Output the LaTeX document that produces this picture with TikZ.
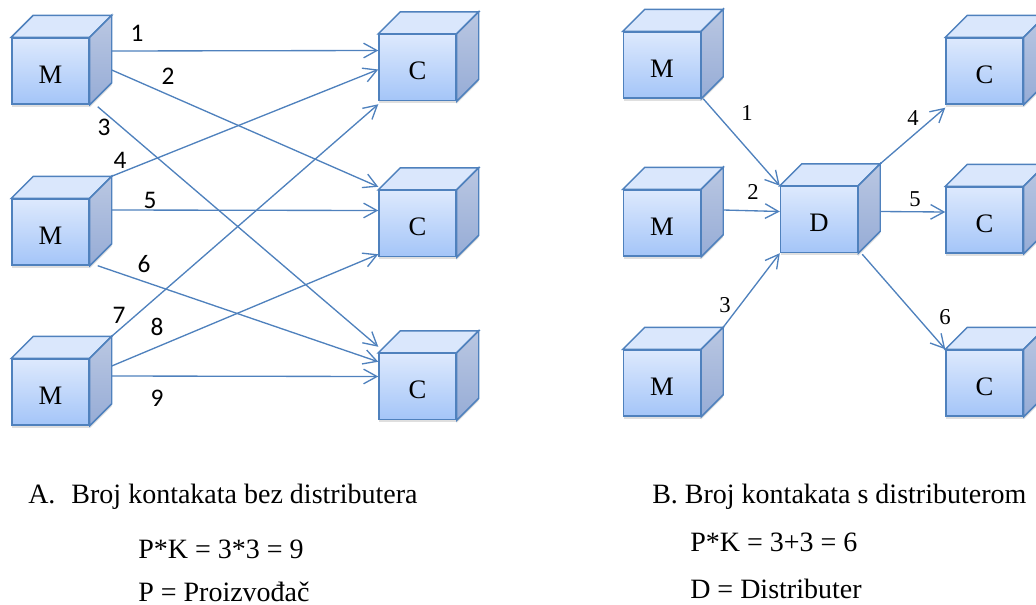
\documentclass[tikz,border=0pt]{standalone}
\usepackage{fontspec}
\setmainfont{Liberation Serif}
\newfontfamily\numfont{Carlito}
\usetikzlibrary{arrows.meta,shadows}

\definecolor{edge}{RGB}{79,129,189}
\definecolor{facetop}{RGB}{221,233,253}
\definecolor{facebot}{RGB}{164,197,248}
\definecolor{lidface}{RGB}{218,231,252}
\definecolor{sidetop}{RGB}{186,199,226}
\definecolor{sidebot}{RGB}{150,172,214}

\begin{document}
\begin{tikzpicture}[x=0.75pt, y=-0.75pt,
    cube/.style={draw=edge, line width=1.1pt, top color=facetop, bottom color=facebot,
                 minimum width=57.75pt, minimum height=49.5pt, inner sep=0pt,
                 text height=18pt, text depth=0pt, font=\fontsize{20}{20}\selectfont,
                 drop shadow={shadow xshift=0pt, shadow yshift=-2pt, opacity=.25}},
    lid/.style={draw=edge, line width=1.1pt, fill=lidface},
    side/.style={draw=edge, line width=1.1pt, top color=sidetop, bottom color=sidebot,
                 drop shadow={shadow xshift=0pt, shadow yshift=-2pt, opacity=.25}},
    link/.style={draw=edge, line width=1pt, -{Straight Barb[length=10pt,width=11pt]}},
    numA/.style={inner sep=0pt, font=\numfont\fontsize{19}{19}\selectfont},
    numB/.style={inner sep=0pt, font=\fontsize{17}{17}\selectfont},
    caption/.style={anchor=base west, inner sep=0pt, font=\fontsize{21}{24}\selectfont}]
        \clip (0,0) rectangle (1036,604);                              %
        % A: bez distributera
        \node[cube] (m1) at (50.5,71)    {M};                          %M1
        \node[cube] (m2) at (50.5,232)   {M};                          %M2
        \node[cube] (m3) at (50.5,392)   {M};                          %M3
        \node[cube] (c1) at (417.5,67.5) {C};                          %C1
        \node[cube] (c2) at (417.5,223.5){C};                          %C2
        \node[cube] (c3) at (417.5,386.5){C};                          %C3
        % B: s distributerom
        \node[cube] (rm1) at (662,65)    {M};                          %M1
        \node[cube] (rm2) at (662,223)   {M};                          %M2
        \node[cube] (rm3) at (662,383)   {M};                          %M3
        \node[cube] (d)   at (819,219.5) {D};                          %D
        \node[cube] (rc1) at (984.5,71)  {C};                          %C1
        \node[cube] (rc2) at (984.5,220) {C};                          %C2
        \node[cube] (rc3) at (984.5,383) {C};                          %C3
        \foreach \n in {m1,m2,m3,c1,c2,c3,rm1,rm2,rm3,d,rc1,rc2,rc3}{%
          \draw[lid]  (\n.north west) -- ++(22,-22) -- ([shift={(22,-22)}]\n.north east) -- (\n.north east) -- cycle;
          \draw[side] (\n.north east) -- ++(22,-22) -- ([shift={(22,-22)}]\n.south east) -- (\n.south east) -- cycle;
        }
        % veze A
        \draw[link] ([shift={(22,-20)}]m1.east)       -- ([shift={(0,-17)}]c1.west);        %1
        \draw[link] ([shift={(22,-1)}]m1.east)        -- ([shift={(0,-3)}]c2.north west);   %2
        \draw[link] ([shift={(8,2)}]m1.south east)    -- ([shift={(0,-6)}]c3.north west);   %3
        \draw[link] ([shift={(22,-22)}]m2.north east) -- ([shift={(0,2)}]c1.west);          %4
        \draw[link] ([shift={(22,-22)}]m2.east)       -- ([shift={(0,-13)}]c2.west);        %5
        \draw[link] ([shift={(8,0)}]m2.south east)    -- ([shift={(0,9)}]c3.north west);    %6
        \draw[link] ([shift={(22,-22)}]m3.north east) -- ([shift={(0,3)}]c1.south west);    %7
        \draw[link] ([shift={(22,-26)}]m3.east)       -- ([shift={(0,-3)}]c2.south west);   %8
        \draw[link] ([shift={(22,-16)}]m3.east)       -- ([shift={(0,-10)}]c3.west);        %9
        \node[numA] (n1) at (137,33)  {1};                             %
        \node[numA] (n2) at (168,76)  {2};                             %
        \node[numA] (n3) at (104,127) {3};                             %
        \node[numA] (n4) at (120,160) {4};                             %
        \node[numA] (n5) at (150,200) {5};                             %
        \node[numA] (n6) at (144,264) {6};                             %
        \node[numA] (n7) at (119,315) {7};                             %
        \node[numA] (n8) at (157,327) {8};                             %
        \node[numA] (n9) at (157,398) {9};                             %
        % veze B
        \draw[link] ([shift={(2,0)}]rm1.south east)    -- (d.north west);                   %1
        \draw[link] ([shift={(22,-13)}]rm2.east)       -- ([shift={(0,-8)}]d.west);         %2
        \draw[link] ([shift={(22,-22)}]rm3.north east) -- (d.south west);                   %3
        \draw[link] ([shift={(22,-22)}]d.north east)   -- ([shift={(0,3)}]rc1.south west);  %4
        \draw[link] ([shift={(22,-8)}]d.east)          -- ([shift={(0,-8)}]rc2.west);       %5
        \draw[link] ([shift={(4,1)}]d.south east)      -- (rc3.north west);                 %6
        \node[numB] (k1) at (747,113) {1};                             %
        \node[numB] (k2) at (753,192) {2};                             %
        \node[numB] (k3) at (725,305) {3};                             %
        \node[numB] (k4) at (913,118) {4};                             %
        \node[numB] (k5) at (915,199) {5};                             %
        \node[numB] (k6) at (945,317) {6};                             %
        % tekst
        \node[caption] (ta) at (28,503)  {A.\hspace{12pt}Broj kontakata bez distributera};
        \node[caption] (tb) at (138,558) {P*K = 3*3 = 9};             %
        \node[caption] (tc) at (138,601) {P = Proizvođač};             %
        \node[caption] (td) at (652,503) {B. Broj kontakata s distributerom};
        \node[caption] (te) at (690,551) {P*K = 3+3 = 6};             %
        \node[caption] (tf) at (690,598) {D = Distributer};            %
\end{tikzpicture}
\end{document}
